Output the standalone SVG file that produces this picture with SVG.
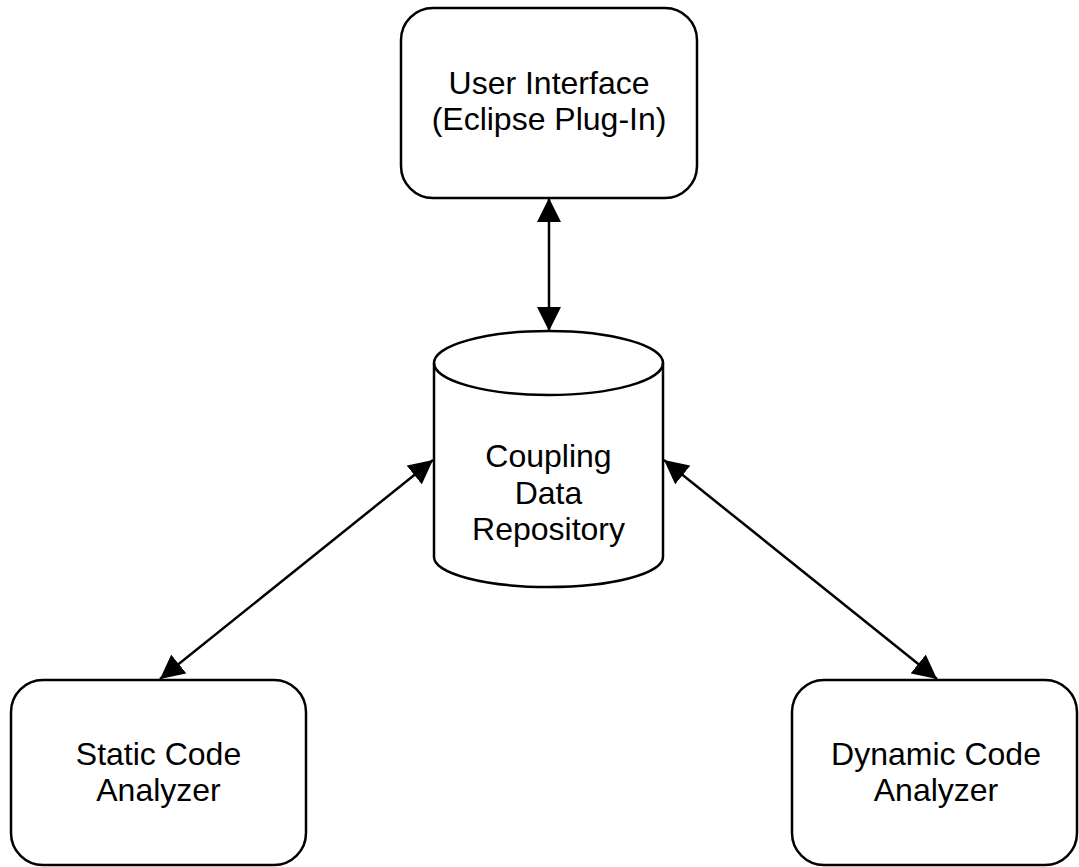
<svg xmlns="http://www.w3.org/2000/svg" width="1079" height="867" viewBox="0 0 1079 867">
<style>
.node{fill:#fff;stroke:#000;stroke-width:2.5}
.lbl{font-family:"Liberation Sans",Arial,sans-serif;font-size:32px;fill:#000;text-anchor:middle}
.conn{stroke:#000;stroke-width:2.5;fill:none;marker-start:url(#ah);marker-end:url(#ah)}
</style>
<defs>
<marker id="ah" markerUnits="userSpaceOnUse" markerWidth="24" markerHeight="24" refX="24" refY="12" orient="auto-start-reverse" viewBox="0 0 24 24">
<path d="M0,0 L24,12 L0,24 Z" fill="#000"/>
</marker>
</defs>
<rect width="1079" height="867" fill="#fff"/>
<g id="connectors">
<line class="conn" x1="549" y1="198" x2="549" y2="331"/>
<line class="conn" x1="433" y1="460" x2="160" y2="679"/>
<line class="conn" x1="664" y1="460" x2="937" y2="679"/>
</g>
<g id="user-interface">
<rect class="node" x="401" y="8" width="296" height="190" rx="32" ry="32"/>
<text class="lbl" x="549" y="94">User Interface</text>
<text class="lbl" x="549" y="130">(Eclipse Plug-In)</text>
</g>
<g id="repository">
<path class="node" d="M434,363 L434,557 A114.5,30 0 0 0 663,557 L663,363 A114.5,32 0 0 0 434,363 Z"/>
<path class="node" style="fill:none" d="M434,363 A114.5,32 0 0 0 663,363"/>
<text class="lbl" x="548.5" y="467">Coupling</text>
<text class="lbl" x="548.5" y="504">Data</text>
<text class="lbl" x="548.5" y="540">Repository</text>
</g>
<g id="static-analyzer">
<rect class="node" x="11" y="680" width="295" height="185" rx="32" ry="32"/>
<text class="lbl" x="158.5" y="765">Static Code</text>
<text class="lbl" x="158.5" y="801">Analyzer</text>
</g>
<g id="dynamic-analyzer">
<rect class="node" x="792" y="680" width="285" height="185" rx="32" ry="32"/>
<text class="lbl" x="936" y="765">Dynamic Code</text>
<text class="lbl" x="936" y="801">Analyzer</text>
</g>
</svg>
